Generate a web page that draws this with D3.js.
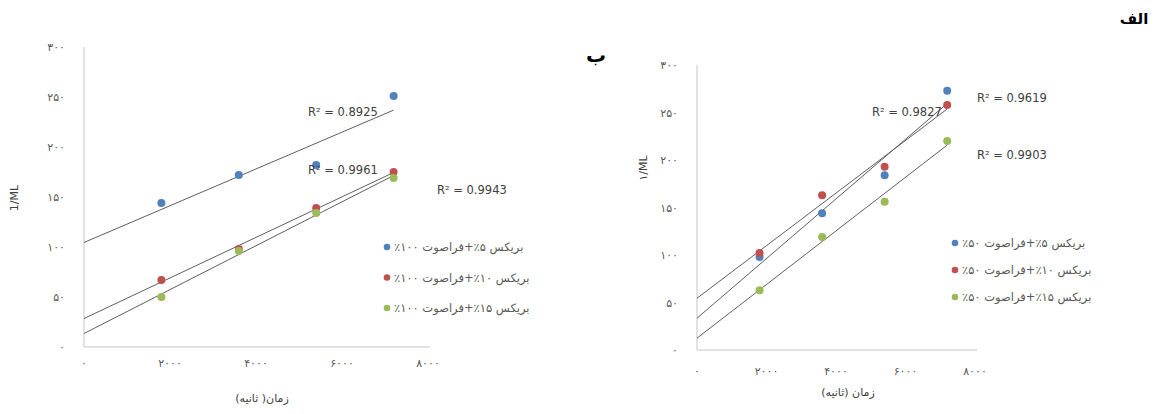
<!DOCTYPE html>
<html>
<head>
<meta charset="utf-8">
<script src="https://cdn.jsdelivr.net/npm/d3@7"></script>
<style>
  body { margin: 0; background: #fff; }
  svg text { font-family: "DejaVu Sans", sans-serif; }
</style>
</head>
<body>
<div id="svgContainer"></div>
<script>
// time in seconds
var times = [1800, 3600, 5400, 7200];
var xTicks = [0, 2000, 4000, 6000, 8000];
var yTicks = [0, 50, 100, 150, 200, 250, 300];

// chart b (left): 100% ultrasound
var leftNames = ["بریکس ۵٪+فراصوت ۱۰۰٪", "بریکس ۱۰٪+فراصوت ۱۰۰٪", "بریکس ۱۵٪+فراصوت ۱۰۰٪"];
var leftBrix5 = [144, 172, 182, 251];
var leftBrix10 = [67, 98, 139, 175];
var leftBrix15 = [50, 96, 134, 169];
var leftR2 = ["R² = 0.8925", "R² = 0.9961", "R² = 0.9943"];

// chart alef (right): 50% ultrasound
var rightNames = ["بریکس ۵٪+فراصوت ۵۰٪", "بریکس ۱۰٪+فراصوت ۵۰٪", "بریکس ۱۵٪+فراصوت ۵۰٪"];
var rightBrix5 = [98, 144, 184, 273];
var rightBrix10 = [102, 163, 193, 258];
var rightBrix15 = [63, 119, 156, 220];
var rightR2 = ["R² = 0.9827", "R² = 0.9619", "R² = 0.9903"];

var colors = ["#4f81bd", "#c0504d", "#9bbb59"];

function toFa(n) {
    var fa = "۰۱۲۳۴۵۶۷۸۹";
    return String(n).replace(/[0-9]/g, function (c) { return fa[+c]; });
}

function linReg(xs, ys) {
    var mx = d3.mean(xs), my = d3.mean(ys);
    var sxy = 0, sxx = 0;
    for (var i = 0; i < xs.length; i++) {
        sxy += (xs[i] - mx) * (ys[i] - my);
        sxx += (xs[i] - mx) * (xs[i] - mx);
    }
    var b = sxy / sxx;
    return { slope: b, icpt: my - b * mx };
}

var svg = d3.select("#svgContainer").append("svg")
    .attr("width", 1162)
    .attr("height", 414);

function drawChart(cfg) {
    var x = d3.scaleLinear().domain([0, 8000]).range([cfg.x0, cfg.x1]);
    var y = d3.scaleLinear().domain([0, 300]).range([cfg.y0, cfg.y1]);
    var g = svg.append("g");

    // axes lines
    g.append("line")
        .attr("x1", x(0)).attr("y1", y(0))
        .attr("x2", x(0)).attr("y2", y(300))
        .style("stroke", "#d9d9d9").style("stroke-width", 1.5);
    g.append("line")
        .attr("x1", x(0)).attr("y1", y(0))
        .attr("x2", cfg.x1 + 2).attr("y2", y(0))
        .style("stroke", "#d9d9d9").style("stroke-width", 1.5);

    g.selectAll(".ytick")
        .data(yTicks)
        .enter().append("text")
        .attr("x", x(0) - 19)
        .attr("y", function (d) { return y(d) + 4; })
        .attr("text-anchor", "end")
        .style("font-size", "11px")
        .style("letter-spacing", "1.5px")
        .style("fill", "#595959")
        .text(function (d) { return toFa(d); });

    g.selectAll(".xtick")
        .data(xTicks)
        .enter().append("text")
        .attr("x", function (d) { return x(d); })
        .attr("y", cfg.y0 + cfg.xLabelGap)
        .attr("text-anchor", "middle")
        .style("font-size", "11px")
        .style("letter-spacing", "2px")
        .style("fill", "#595959")
        .text(function (d) { return toFa(d); });

    // trend lines then points
    cfg.series.forEach(function (s, k) {
        var r = linReg(times, s);
        g.append("line")
            .attr("x1", x(0)).attr("y1", y(r.icpt))
            .attr("x2", x(times[times.length - 1])).attr("y2", y(r.icpt + r.slope * times[times.length - 1]))
            .style("stroke", "#5f5f5f").style("stroke-width", 1);
    });
    cfg.series.forEach(function (s, k) {
        g.selectAll(".pt" + k)
            .data(s)
            .enter().append("circle")
            .attr("cx", function (d, i) { return x(times[i]); })
            .attr("cy", function (d) { return y(d); })
            .attr("r", 4)
            .style("fill", colors[k]);
    });

    // R² labels
    cfg.r2.forEach(function (t, k) {
        g.append("text")
            .attr("x", cfg.r2pos[k][0]).attr("y", cfg.r2pos[k][1])
            .style("font-size", "11.5px")
            .style("fill", "#404040")
            .text(t);
    });

    // legend
    cfg.names.forEach(function (n, k) {
        var ly = cfg.legY + k * cfg.legStep;
        g.append("circle")
            .attr("cx", cfg.legX).attr("cy", ly)
            .attr("r", 3.3)
            .style("fill", colors[k]);
        g.append("text")
            .attr("x", cfg.legX + 7).attr("y", ly + 4)
            .attr("direction", "rtl")
            .attr("text-anchor", "end")
            .style("font-size", "11.5px")
            .style("fill", "#595959")
            .text(n);
    });

    // axis titles
    g.append("text")
        .attr("transform", "translate(" + cfg.yTitle[0] + "," + cfg.yTitle[1] + ") rotate(-90)")
        .attr("text-anchor", "middle")
        .style("font-size", "11px")
        .style("fill", "#404040")
        .text(cfg.yTitleText);
    g.append("text")
        .attr("x", cfg.xTitle[0]).attr("y", cfg.xTitle[1])
        .attr("text-anchor", "middle")
        .attr("direction", "rtl")
        .style("font-size", "11px")
        .style("fill", "#404040")
        .text(cfg.xTitleText);
}

drawChart({
    x0: 84, x1: 428, y0: 347, y1: 47, xLabelGap: 20,
    series: [leftBrix5, leftBrix10, leftBrix15],
    r2: leftR2,
    r2pos: [[308, 116], [308, 174], [437, 194]],
    names: leftNames,
    legX: 387, legY: 247, legStep: 30.5,
    yTitle: [18, 198], yTitleText: "1/ML",
    xTitle: [262, 402], xTitleText: "زمان( ثانیه)"
});

drawChart({
    x0: 697, x1: 975, y0: 350, y1: 65, xLabelGap: 25,
    series: [rightBrix5, rightBrix10, rightBrix15],
    r2: rightR2,
    r2pos: [[872, 116], [977, 102], [977, 159]],
    names: rightNames,
    legX: 955, legY: 243, legStep: 27,
    yTitle: [647, 168], yTitleText: "۱/ML",
    xTitle: [848, 396], xTitleText: "زمان (ثانیه)"
});

// panel letters
svg.append("text")
    .attr("x", 596).attr("y", 62)
    .attr("text-anchor", "middle")
    .style("font-size", "20px").style("font-weight", "bold")
    .text("ب");
svg.append("text")
    .attr("x", 1134).attr("y", 24)
    .attr("text-anchor", "middle")
    .style("font-size", "15px").style("font-weight", "bold")
    .text("الف");
</script>
</body>
</html>
